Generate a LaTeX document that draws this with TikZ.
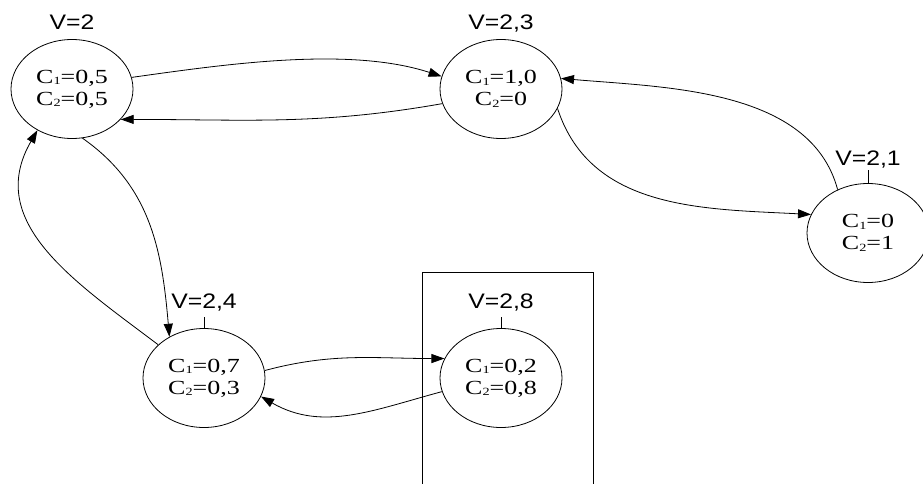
\documentclass[tikz,border=0pt]{standalone}
\usepackage{graphicx}
\usepackage{fontspec}
\setmainfont{Liberation Serif}
\newfontfamily\labelfont{Liberation Sans}
\usetikzlibrary{shapes.geometric,arrows.meta}
\newcommand{\wide}[2]{\scalebox{1.3}[1]{C\raisebox{-1.5pt}{\fontsize{11}{11}\selectfont #1}=#2}}
\newcommand{\vtext}[1]{\scalebox{1.18}[1]{#1}}

\begin{document}
\begin{tikzpicture}[x=1pt,y=-1pt,line width=0.8pt,>={Triangle[length=13pt,width=9pt]},
    state/.style={ellipse,draw,minimum width=122pt,minimum height=99pt,inner sep=0pt,
        align=center,font=\fontsize{20}{22}\selectfont},
    vlabel/.style={anchor=base,inner sep=0pt,font=\labelfont\fontsize{21}{21}\selectfont}]
    \useasboundingbox (0,0) rectangle (923,484);
    \clip (0,0) rectangle (923,484);
    % frame round the last state
    \draw (422,484) -- (422,272) -- (593,272) -- (593,484);
    % states
    \node[state] (a) at (72,89) {\wide{1}{0,5}\\\wide{2}{0,5}};
    \node[state] (b) at (501,89) {\wide{1}{1,0}\\\wide{2}{0}};
    \node[state] (c) at (868,233) {\wide{1}{0}\\\wide{2}{1}};
    \node[state] (d) at (204,378) {\wide{1}{0,7}\\\wide{2}{0,3}};
    \node[state] (e) at (501,378) {\wide{1}{0,2}\\\wide{2}{0,8}};
    % labels
    \node[vlabel] (la) at (72,30) {\vtext{V=2}};
    \node[vlabel] (lb) at (501,30) {\vtext{V=2,3}};
    \node[vlabel] (lc) at (868,165) {\vtext{V=2,1}};
    \node[vlabel] (ld) at (204,308) {\vtext{V=2,4}};
    \node[vlabel] (le) at (501,308) {\vtext{V=2,8}};
    \draw[line width=0.6pt] ([yshift=-5pt]lc.base) -- (c);
    \draw[line width=0.6pt] ([yshift=-9pt]ld.base) -- (d);
    \draw[line width=0.6pt] ([yshift=-9pt]le.base) -- (e);
    % transitions
    \draw[->] (a.11) to[out=8,in=162,looseness=0.8] (b.168);
    \draw[->] (b.-166) to[out=190,in=0] (a.-32);
    \draw[->] (a.-78) to[out=-35,in=95] (d.130);
    \draw[->] (d.144) to[out=143,in=240,looseness=1.1] (a.-130);
    \draw[->] (b.-19) to[out=-72,in=177] (c.162);
    \draw[->] (c.125) to[out=105,in=-5,looseness=0.9] (b.10);
    \draw[->] (d.7) to[out=15,in=180] (e.161);
    \draw[->] (e.-167) to[out=195,in=-30] (d.-18);
\end{tikzpicture}
\end{document}
